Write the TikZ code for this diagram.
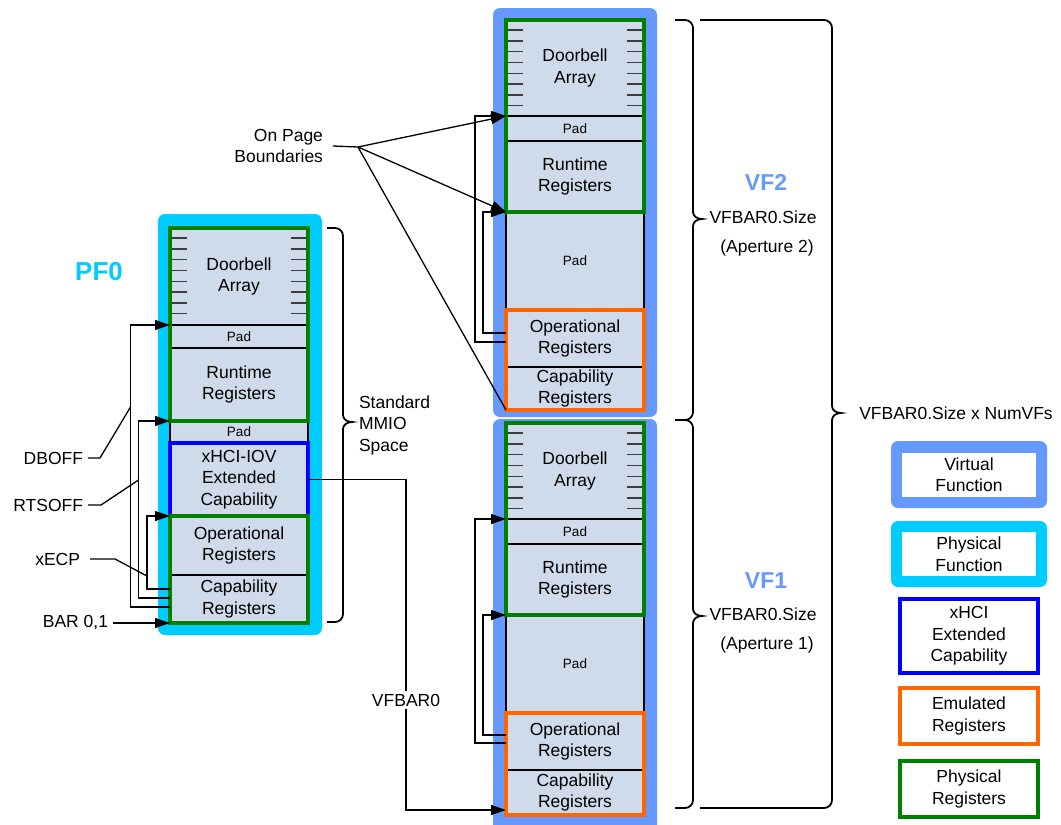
\documentclass[tikz,border=0pt]{standalone}
\usepackage{fontspec}
\setmainfont{Liberation Sans}
\usetikzlibrary{arrows.meta,calc}
\definecolor{regfill}{RGB}{207,218,234}
\definecolor{pfcyan}{RGB}{0,204,255}
\definecolor{vfblue}{RGB}{102,153,255}
\definecolor{pgreen}{RGB}{0,128,0}
\definecolor{porange}{RGB}{255,102,0}
\definecolor{xblue}{RGB}{0,0,255}
\definecolor{tickgray}{RGB}{60,60,60}
\newcommand{\labfont}{\fontsize{17.5}{21.5}\selectfont}
\newcommand{\padfont}{\fontsize{13.5}{16}\selectfont}
\newcommand{\mybrace}[5]{\draw[braceline] (#1,#3) -- ({#2-8},#3) to[out=0,in=90] (#2,{#3+8}) -- (#2,{#4-7}) to[out=-90,in=180] ({#2+9},#4) to[out=180,in=90] (#2,{#4+7}) -- (#2,{#5-8}) to[out=-90,in=0] ({#2-8},#5) -- (#1,#5);}
\newcommand{\doorticks}[1]{\foreach \i in {0,...,7}{%
  \draw[tick] ([xshift=2pt,yshift={-10pt-\i*10.8pt}]#1.north west) -- ++(15,0);
  \draw[tick] ([xshift=-2pt,yshift={-10pt-\i*10.8pt}]#1.north east) -- ++(-15,0);}}
\tikzset{
 reg/.style={draw=black, line width=1.1pt, fill=regfill, anchor=north west, minimum width=138pt, inner sep=0pt, outer sep=0pt, align=center, font=\labfont},
 padbox/.style={reg, font=\padfont},
 gframe/.style={draw=pgreen, line width=4.5pt},
 oframe/.style={draw=porange, line width=4.5pt},
 bframe/.style={draw=xblue, line width=4.5pt},
 tick/.style={draw=tickgray, line width=1.4pt},
 conn/.style={draw=black, line width=1.3pt},
 arr/.style={conn, -{Triangle[length=15pt,width=10pt]}},
 braceline/.style={draw=black, line width=1.8pt},
 lab/.style={inner sep=0pt, outer sep=0pt, font=\labfont, align=center},
 outerpf/.style={fill=pfcyan, rounded corners=7pt},
 outervf/.style={fill=vfblue, rounded corners=7pt},
 legbox/.style={lab, line width=4pt, minimum width=138pt},
}
\begin{document}
\begin{tikzpicture}[x=1pt,y=-1pt]
\useasboundingbox (0,0) rectangle (1061,825);
% outer function areas
\fill[outerpf] (158,214) rectangle (322,635);
\fill[outervf] (493,8) rectangle (657,417);
\fill[outervf] (493,419) rectangle (657,840);
% PF0 registers
\node[reg, minimum height=97pt] (pfdb) at (170,228) {Doorbell\\Array};
\node[padbox, minimum height=23pt] (pfpad1) at (170,325) {Pad};
\node[reg, minimum height=73pt] (pfrt) at (170,348) {Runtime\\Registers};
\node[padbox, minimum height=22pt] (pfpad2) at (170,421) {Pad};
\node[reg, minimum height=73pt] (pfx) at (170,443) {xHCI-IOV\\Extended\\Capability};
\node[reg, minimum height=59pt] (pfop) at (170,516) {Operational\\Registers};
\node[reg, minimum height=48pt] (pfcap) at (170,575) {Capability\\Registers};
% VF2 registers
\node[reg, minimum height=96pt] (vf2db) at (506,20) {Doorbell\\Array};
\node[padbox, minimum height=25pt] (vf2pad) at (506,116) {Pad};
\node[reg, minimum height=71pt] (vf2rt) at (506,141) {Runtime\\Registers};
\node[padbox, minimum height=98pt] (vf2bp) at (506,212) {Pad};
\node[reg, minimum height=57pt] (vf2op) at (506,310) {Operational\\Registers};
\node[reg, minimum height=43pt] (vf2cap) at (506,367) {Capability\\Registers};
% VF1 registers
\node[reg, minimum height=96pt] (vf1db) at (506,423) {Doorbell\\Array};
\node[padbox, minimum height=25pt] (vf1pad) at (506,519) {Pad};
\node[reg, minimum height=71pt] (vf1rt) at (506,544) {Runtime\\Registers};
\node[padbox, minimum height=98pt] (vf1bp) at (506,615) {Pad};
\node[reg, minimum height=57pt] (vf1op) at (506,713) {Operational\\Registers};
\node[reg, minimum height=45pt] (vf1cap) at (506,770) {Capability\\Registers};
% doorbell ticks
\doorticks{pfdb}
\doorticks{vf2db}
\doorticks{vf1db}
% frames
\draw[gframe] (pfdb.north west) rectangle (pfrt.south east);
\draw[bframe] (pfx.north west) rectangle (pfx.south east);
\draw[gframe] (pfop.north west) rectangle (pfcap.south east);
\draw[gframe] (vf2db.north west) rectangle (vf2rt.south east);
\draw[oframe] (vf2op.north west) rectangle (vf2cap.south east);
\draw[gframe] (vf1db.north west) rectangle (vf1rt.south east);
\draw[oframe] (vf1op.north west) rectangle (vf1cap.south east);
% labels
\node[lab, font=\bfseries\fontsize{26}{30}\selectfont, text=pfcyan] (pf0lab) at (99,272) {PF0};
\node[lab, anchor=east] (dboff) at (83,458) {DBOFF};
\node[lab, anchor=east] (rtsoff) at (83,505) {RTSOFF};
\node[lab, anchor=east] (xecp) at (80,559) {xECP};
\node[lab, anchor=east] (bar) at (108,623) {BAR 0,1};
\node[lab, anchor=west, align=left] (mmio) at (359,425) {Standard\\MMIO\\Space};
\node[lab, anchor=east, align=right] (opb) at (323,146) {On Page\\Boundaries};
% PF0 connectors
\coordinate (dbj) at (130.5,407);
\coordinate (rtj) at (138.5,480);
\coordinate (xej) at (147,576);
\draw[arr] ([yshift=-8pt]pfcap.west) -| (dbj) |- (pfpad1.north west);
\draw[arr] ([yshift=1pt]pfcap.west) -| (rtj) |- (pfpad2.north west);
\draw[arr] ([yshift=10pt]pfcap.west) -| (xej) |- (pfop.north west);
\draw[conn] ([xshift=5pt]dboff.east) -- ++(12,0) -- (dbj);
\draw[conn] ([xshift=5pt]rtsoff.east) -- ++(13,0) -- (rtj);
\draw[conn] ([xshift=10pt]xecp.east) -- ++(25,0) -- (xej);
\draw[arr] ([xshift=5pt]bar.east) -- (pfcap.south west);
% VF2 connectors
\coordinate (v2a) at (475,200);
\coordinate (v2b) at (483,260);
\draw[arr] ([yshift=-3.5pt]vf2op.west) -| (v2a) |- (vf2pad.north west);
\draw[arr] ([yshift=5.5pt]vf2op.west) -| (v2b) |- (vf2bp.north west);
% VF1 connectors
\coordinate (v1a) at (475,600);
\coordinate (v1b) at (483,660);
\draw[arr] ([yshift=-1.5pt]vf1op.west) -| (v1a) |- (vf1pad.north west);
\draw[arr] ([yshift=6.5pt]vf1op.west) -| (v1b) |- (vf1bp.north west);
% On page boundaries
\coordinate (opbj) at (358,147);
\draw[conn] ([xshift=10pt]opb.east) -- (opbj);
\draw[arr] (opbj) -- (vf2pad.north west);
\draw[arr] (opbj) -- (vf2bp.north west);
\draw[conn] (opbj) -- (vf2cap.south west);
% VFBAR0
\coordinate (vbx) at (406,810);
\draw[arr] (pfx.east) -| (vbx) -- (vbx -| vf1cap.west);
\node[lab, fill=white, inner sep=3pt] (vfbar) at (406,700) {VFBAR0};
% braces
\mybrace{327}{343}{228}{422}{622}
\mybrace{675}{693}{20}{219}{420}
\mybrace{675}{693}{420}{616}{808}
\mybrace{700}{832}{20}{413}{808}
% VF labels
\node[lab, font=\bfseries\fontsize{23}{27}\selectfont, text=vfblue] (vf2lab) at (766,182) {VF2};
\node[lab] (vf2size) at (763,217) {VFBAR0.Size};
\node[lab] (vf2ap) at (767,248) {(Aperture 2)};
\node[lab, font=\bfseries\fontsize{23}{27}\selectfont, text=vfblue] (vf1lab) at (766,581) {VF1};
\node[lab] (vf1size) at (763,614) {VFBAR0.Size};
\node[lab] (vf1ap) at (767,645) {(Aperture 1)};
\node[lab] (total) at (956,413) {VFBAR0.Size x NumVFs};
% legend
\fill[outervf] (891,441) rectangle (1047,508);
\node[lab, fill=white, minimum width=134pt, minimum height=44pt] (legvf) at (969,474.5) {Virtual\\Function};
\fill[outerpf] (891,521) rectangle (1047,587);
\node[lab, fill=white, minimum width=134pt, minimum height=44pt] (legpf) at (969,554) {Physical\\Function};
\node[legbox, draw=xblue, minimum height=74pt] (legx) at (969,636) {xHCI\\Extended\\Capability};
\node[legbox, draw=porange, minimum height=56pt] (lege) at (969,716) {Emulated\\Registers};
\node[legbox, draw=pgreen, minimum height=56pt] (legp) at (969,789) {Physical\\Registers};
\end{tikzpicture}
\end{document}
